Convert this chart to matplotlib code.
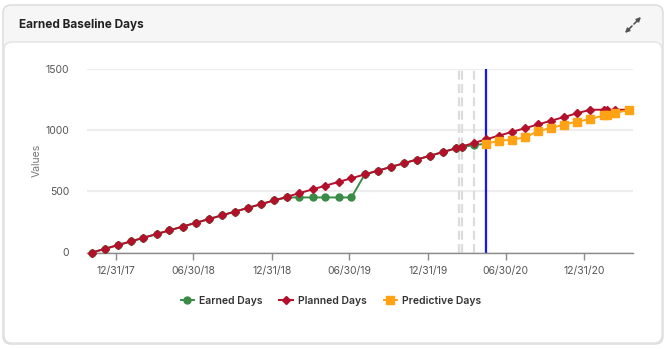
import numpy as np
import matplotlib
matplotlib.use("Agg")
import matplotlib.pyplot as plt
from matplotlib.patches import FancyBboxPatch, FancyArrowPatch
from matplotlib.transforms import IdentityTransform
from matplotlib.lines import Line2D

plt.rcParams['font.family'] = ['Inter', 'DejaVu Sans']

W, H = 670, 349

# monthly status dates (plus a few extra status points in spring 2020 / Feb 2021)
dates = np.array([
    "2017-11-05", "2017-12-05", "2018-01-05", "2018-02-05", "2018-03-05", "2018-04-05",
    "2018-05-05", "2018-06-05", "2018-07-05", "2018-08-05", "2018-09-05", "2018-10-05",
    "2018-11-05", "2018-12-05", "2019-01-05", "2019-02-05", "2019-03-05", "2019-04-05",
    "2019-05-05", "2019-06-05", "2019-07-05", "2019-08-05", "2019-09-05", "2019-10-05",
    "2019-11-05", "2019-12-05", "2020-01-05", "2020-02-05", "2020-03-05", "2020-03-19",
    "2020-04-18", "2020-05-14", "2020-06-14", "2020-07-14", "2020-08-14", "2020-09-14",
    "2020-10-14", "2020-11-14", "2020-12-14", "2021-01-14", "2021-02-14", "2021-02-21",
    "2021-03-14", "2021-04-14"], dtype="datetime64[D]")

planned = [0, 30, 61, 92, 120, 151, 181, 212, 242, 273, 304, 334,
           365, 395, 426, 457, 485, 516, 546, 577, 607, 638, 669, 699,
           730, 760, 791, 822, 851, 866, 897, 924, 955, 985, 1016, 1047,
           1077, 1108, 1138, 1167, 1167, 1167, 1167, 1167]

earned = [0, 30, 61, 92, 120, 151, 181, 212, 242, 273, 304, 334,
          365, 395, 426, 450, 450, 450, 450, 450, 450, 638, 669, 699,
          730, 760, 791, 822, 851, 862, 878, 889, None, None, None, None,
          None, None, None, None, None, None, None, None]

predictive = [None] * 31 + [889, 913, 922, 941, 992, 1018, 1045, 1070,
                            1090, 1120, 1128, 1141, 1165]

# reference markers: baseline change dashes and the status date
dashed_dates = np.array(["2020-03-12", "2020-03-19", "2020-04-18"], dtype="datetime64[D]")
status_date = np.datetime64("2020-05-14")

tick_dates = np.array(["2017-12-31", "2018-06-30", "2018-12-31", "2019-06-30",
                       "2019-12-31", "2020-06-30", "2020-12-31"], dtype="datetime64[D]")
tick_labels = ["12/31/17", "06/30/18", "12/31/18", "06/30/19",
               "12/31/19", "06/30/20", "12/31/20"]
y_ticks = [0, 500, 1000, 1500]

GREEN = "#3a8b45"
RED = "#b3102c"
ORANGE = "#ffa214"
BLUE = "#1414f5"


def series(vals):
    return np.array([np.nan if v is None else v for v in vals], dtype=float)


fig = plt.figure(figsize=(W / 100, H / 100), dpi=100)
fig.patch.set_facecolor("white")

# card frame: grey header, white body
px = IdentityTransform()
outer = FancyBboxPatch((3, H - 344), 660, 339, boxstyle="round,pad=0,rounding_size=8",
                       transform=px, facecolor="#f6f6f6", edgecolor="#dadada", lw=1.0,
                       zorder=-3)
inner = FancyBboxPatch((4, H - 343), 658, 301, boxstyle="round,pad=0,rounding_size=8",
                       transform=px, facecolor="white", edgecolor="#e2e2e2", lw=1.0,
                       zorder=-2)
fig.add_artist(outer)
fig.add_artist(inner)

fig.text(19 / W, 1 - 25 / H, "Earned Baseline Days", fontsize=8.5, fontweight="bold",
         color="#222222", va="center", ha="left")

# expand icon
for a, b in [((634, 24), (641, 17)), ((632, 26), (625, 33))]:
    fig.add_artist(FancyArrowPatch((a[0], H - a[1]), (b[0], H - b[1]), transform=px,
                                   arrowstyle="-|>", mutation_scale=6, color="#555555",
                                   lw=1.2, shrinkA=0, shrinkB=0))

ax = fig.add_axes([87 / W, 1 - 252.5 / H, 546 / W, 183.5 / H])
ax.set_facecolor("none")

x = dates.astype(object)
ax.plot(x, series(earned), color=GREEN, lw=1.4, marker="o", ms=5, zorder=3, clip_on=False)
ax.plot(x, series(planned), color=RED, lw=1.4, marker="D", ms=4.4, zorder=4, clip_on=False)
ax.plot(x, series(predictive), color=ORANGE, lw=1.4, marker="s", ms=5.5, zorder=5, clip_on=False)

for d in dashed_dates:
    ax.axvline(d.astype(object), color="#dcdcdc", lw=1.6, ls=(0, (4, 2)), zorder=1)
ax.axvline(status_date.astype(object), color=BLUE, lw=1.6, zorder=2)

ax.set_ylim(0, 1500)
ax.set_xlim(np.datetime64("2017-10-24").astype(object), np.datetime64("2021-04-24").astype(object))
ax.set_yticks(y_ticks)
ax.set_yticklabels([str(v) for v in y_ticks])
ax.set_xticks(tick_dates.astype(object))
ax.set_xticklabels(tick_labels)

ax.grid(axis="y", color="#eeeeee", lw=1.6, zorder=0)
ax.set_axisbelow(True)
for s in ["top", "right", "left"]:
    ax.spines[s].set_visible(False)
ax.spines["bottom"].set_color("#8a8a8a")
ax.spines["bottom"].set_linewidth(1.0)
ax.tick_params(axis="x", length=5, color="#8a8a8a", width=1.0, labelsize=7.5,
               labelcolor="#555555", pad=5)
ax.tick_params(axis="y", length=0, labelsize=7.5, labelcolor="#555555", pad=13)

ax.set_ylabel("Values", fontsize=7.5, color="#777777")
ax.yaxis.set_label_coords(-0.082, 0.5)

handles = [Line2D([], [], color=GREEN, lw=1.4, marker="o", ms=5),
           Line2D([], [], color=RED, lw=1.4, marker="D", ms=4.4),
           Line2D([], [], color=ORANGE, lw=1.4, marker="s", ms=5.5)]
leg = fig.legend(handles, ["Earned Days", "Planned Days", "Predictive Days"],
                 loc="center", bbox_to_anchor=(331 / W, 1 - 301 / H), ncol=3,
                 frameon=False, handlelength=1.3, handletextpad=0.5, columnspacing=1.6,
                 prop={"size": 7.5, "weight": "semibold"})
for t in leg.get_texts():
    t.set_color("#333333")

fig.savefig("out.png", dpi=100)
